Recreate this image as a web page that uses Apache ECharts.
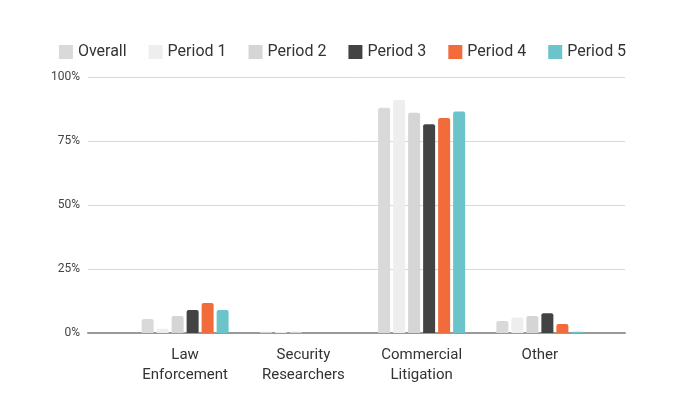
<!DOCTYPE html><html><head><meta charset="utf-8"><script src="https://cdn.jsdelivr.net/npm/echarts@6/dist/echarts.min.js"></script></head><body style="margin:0"><div id="c" style="width:685px;height:418px"></div><script>
const categories=['Law\nEnforcement','Security\nResearchers','Commercial\nLitigation','Other'];
const seriesNames=['Overall','Period 1','Period 2','Period 3','Period 4','Period 5'];
const overall=[5.5,0.5,88,4.7];
const period1=[1.7,0.4,91,6.1];
const period2=[6.6,0.5,86,6.6];
const period3=[9,0,81.5,7.7];
const period4=[11.7,0,84,3.5];
const period5=[9,0,86.5,0.5];
const colors=['#d9d9d9','#eeeeee','#d5d5d5','#434343','#f26b3a','#6bc4ca'];
const data=[overall,period1,period2,period3,period4,period5];
const ch=echarts.init(document.getElementById('c'));
ch.setOption({
legend:{top:39,left:'center',itemWidth:14,itemHeight:14,itemGap:22,icon:'rect',textStyle:{fontFamily:'Roboto',fontSize:16,color:'#333'}},
grid:[{left:88,right:60,top:77,bottom:85},{left:126,right:86,top:77,bottom:85}],
xAxis:[{gridIndex:0,type:'category',data:[''],axisTick:{show:false},axisLabel:{show:false},axisLine:{lineStyle:{color:'#999',width:2}}},
{gridIndex:1,type:'category',data:categories,axisTick:{show:false},axisLine:{show:false},axisLabel:{fontFamily:'Roboto',fontSize:15,color:'#333',lineHeight:20,margin:12}}],
yAxis:[{gridIndex:0,type:'value',min:0,max:100,interval:25,axisLabel:{formatter:'{value}%',fontFamily:'Roboto',fontSize:12,color:'#444'},splitLine:{lineStyle:{color:'#d9d9d9'}}},
{gridIndex:1,type:'value',min:0,max:100,interval:25,show:false,splitLine:{show:false}}],
series:seriesNames.map((n,i)=>({name:n,type:'bar',xAxisIndex:1,yAxisIndex:1,data:data[i],barWidth:12,barGap:'25%',itemStyle:{color:colors[i],borderRadius:[2,2,0,0]}}))
});
</script></body></html>
